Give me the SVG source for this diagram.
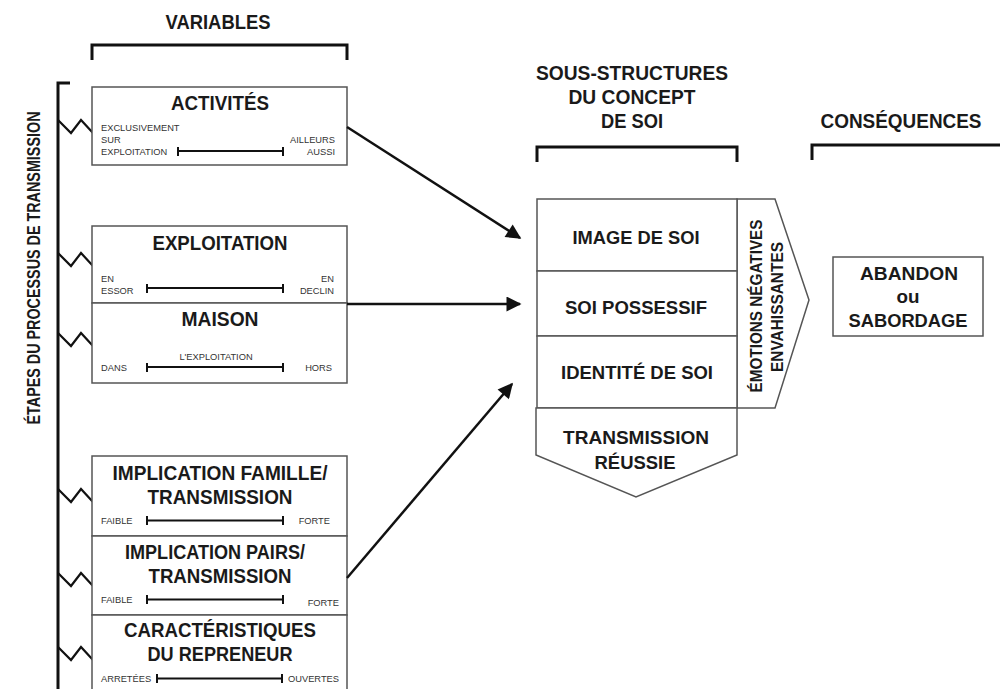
<svg xmlns="http://www.w3.org/2000/svg" width="1000" height="689" viewBox="0 0 1000 689">
<style>
.hdr{font-family:"Liberation Sans",Arial,sans-serif;font-weight:bold;font-size:20px;fill:#1a1a1a;text-anchor:middle}
.ttl{font-family:"Liberation Sans",Arial,sans-serif;font-weight:bold;font-size:20px;fill:#1a1a1a;text-anchor:middle}
.rt{font-family:"Liberation Sans",Arial,sans-serif;font-weight:bold;font-size:19px;fill:#1a1a1a;text-anchor:middle}
.sm{font-family:"Liberation Sans",Arial,sans-serif;font-size:9.3px;fill:#333}
.smr{font-family:"Liberation Sans",Arial,sans-serif;font-size:9.3px;fill:#333;text-anchor:end}
.smc{font-family:"Liberation Sans",Arial,sans-serif;font-size:9.3px;fill:#333;text-anchor:middle}
.box{fill:#fff;stroke:#555;stroke-width:1.5}
.brk{fill:none;stroke:#111;stroke-width:3}
.scale{fill:none;stroke:#111;stroke-width:2}
.zz{fill:none;stroke:#111;stroke-width:2.2;stroke-linejoin:miter}
.con{fill:none;stroke:#111;stroke-width:2.5}
</style>
<defs>
<path id="zig" d="M0,0 L13,13 L23,0 L35,13"/>
<marker id="ah" viewBox="0 0 10 10" refX="9" refY="5" markerWidth="6.5" markerHeight="6" markerUnits="strokeWidth" orient="auto">
<path d="M0,0 L10,5 L0,10 Z" fill="#111"/>
</marker>
</defs>

<!-- Headers -->
<g id="header-variables">
<text class="hdr" x="218" y="29" textLength="105" lengthAdjust="spacingAndGlyphs">VARIABLES</text>
<path class="brk" d="M92,60 V45 H347 V60"/>
</g>
<g id="header-sous-structures">
<text class="hdr" x="632" y="80" textLength="192" lengthAdjust="spacingAndGlyphs">SOUS-STRUCTURES</text>
<text class="hdr" x="632" y="104" textLength="127" lengthAdjust="spacingAndGlyphs">DU CONCEPT</text>
<text class="hdr" x="632" y="128" textLength="62" lengthAdjust="spacingAndGlyphs">DE SOI</text>
<path class="brk" d="M537,162 V147 H737 V162"/>
</g>
<g id="header-consequences">
<text class="hdr" x="901" y="128" textLength="161" lengthAdjust="spacingAndGlyphs">CONSÉQUENCES</text>
<path class="brk" d="M812,160 V145 H1002"/>
</g>

<!-- Left axis -->
<g id="axis-etapes">
<text class="hdr" style="font-size:17.5px" transform="translate(40,268) rotate(-90)" textLength="313" lengthAdjust="spacingAndGlyphs">ÉTAPES DU PROCESSUS DE TRANSMISSION</text>
<path class="brk" d="M70,83 H58 V690"/>
<use href="#zig" class="zz" x="58" y="120"/>
<use href="#zig" class="zz" x="58" y="253"/>
<use href="#zig" class="zz" x="58" y="333"/>
<use href="#zig" class="zz" x="58" y="489"/>
<use href="#zig" class="zz" x="58" y="573"/>
<use href="#zig" class="zz" x="58" y="647"/>
</g>

<!-- Variable boxes -->
<g id="node-activites">
<rect class="box" x="92" y="87" width="255" height="78"/>
<text class="ttl" x="220" y="110" textLength="98" lengthAdjust="spacingAndGlyphs">ACTIVITÉS</text>
<text class="sm" x="101" y="131">EXCLUSIVEMENT</text>
<text class="sm" x="101" y="143">SUR</text>
<text class="sm" x="101" y="155">EXPLOITATION</text>
<text class="smr" x="335" y="143">AILLEURS</text>
<text class="smr" x="335" y="155">AUSSI</text>
<path class="scale" d="M178,147 V156 M178,151 H283 M283,147 V156"/>
</g>

<g id="node-exploitation">
<rect class="box" x="92" y="226" width="255" height="77"/>
<text class="ttl" x="220" y="250" textLength="135" lengthAdjust="spacingAndGlyphs">EXPLOITATION</text>
<text class="sm" x="101" y="282">EN</text>
<text class="sm" x="101" y="294">ESSOR</text>
<text class="smr" x="334" y="282">EN</text>
<text class="smr" x="334" y="294">DECLIN</text>
<path class="scale" d="M147,284 V293 M147,288 H283 M283,284 V293"/>
</g>

<g id="node-maison">
<rect class="box" x="92" y="303" width="255" height="80"/>
<text class="ttl" x="220" y="326" textLength="77" lengthAdjust="spacingAndGlyphs">MAISON</text>
<text class="smc" x="216" y="360">L'EXPLOITATION</text>
<text class="sm" x="101" y="371">DANS</text>
<text class="smr" x="332" y="371">HORS</text>
<path class="scale" d="M147,363 V372 M147,367 H283 M283,363 V372"/>
</g>

<g id="node-implication-famille">
<rect class="box" x="92" y="456" width="255" height="80"/>
<text class="ttl" x="220" y="480" textLength="215" lengthAdjust="spacingAndGlyphs">IMPLICATION FAMILLE/</text>
<text class="ttl" x="220" y="504" textLength="145" lengthAdjust="spacingAndGlyphs">TRANSMISSION</text>
<text class="sm" x="101" y="524">FAIBLE</text>
<text class="smr" x="330" y="524">FORTE</text>
<path class="scale" d="M147,516 V525 M147,520.5 H283 M283,516 V525"/>
</g>

<g id="node-implication-pairs">
<rect class="box" x="92" y="536" width="255" height="79"/>
<text class="ttl" x="215" y="559" textLength="180" lengthAdjust="spacingAndGlyphs">IMPLICATION PAIRS/</text>
<text class="ttl" x="220" y="583" textLength="143" lengthAdjust="spacingAndGlyphs">TRANSMISSION</text>
<text class="sm" x="101" y="603">FAIBLE</text>
<text class="smr" x="339" y="606">FORTE</text>
<path class="scale" d="M147,595 V604 M147,599.5 H283 M283,595 V604"/>
</g>

<g id="node-caracteristiques">
<rect class="box" x="92" y="615" width="255" height="80"/>
<text class="ttl" x="220" y="637" textLength="192" lengthAdjust="spacingAndGlyphs">CARACTÉRISTIQUES</text>
<text class="ttl" x="220" y="661" textLength="145" lengthAdjust="spacingAndGlyphs">DU REPRENEUR</text>
<text class="sm" x="101" y="682">ARRETÉES</text>
<text class="smr" x="339" y="682">OUVERTES</text>
<path class="scale" d="M157,674 V683 M157,678.5 H282 M282,674 V683"/>
</g>

<!-- Self-concept sub-structures -->
<g id="node-emotions">
<path class="box" d="M737,199 H775 L809,300 L775,408 H737 Z"/>
<text class="rt" style="font-size:16.5px" transform="translate(762,306) rotate(-90)" textLength="173" lengthAdjust="spacingAndGlyphs">ÉMOTIONS NÉGATIVES</text>
<text class="rt" style="font-size:16.5px" transform="translate(783,307) rotate(-90)" textLength="130" lengthAdjust="spacingAndGlyphs">ENVAHISSANTES</text>
</g>
<g id="node-image-de-soi">
<rect class="box" x="537" y="199" width="200" height="72"/>
<text class="rt" x="636" y="244" textLength="127" lengthAdjust="spacingAndGlyphs">IMAGE DE SOI</text>
</g>
<g id="node-soi-possessif">
<rect class="box" x="537" y="271" width="200" height="65"/>
<text class="rt" x="636" y="314" textLength="142" lengthAdjust="spacingAndGlyphs">SOI POSSESSIF</text>
</g>
<g id="node-identite-de-soi">
<rect class="box" x="537" y="336" width="200" height="72"/>
<text class="rt" x="637" y="379" textLength="152" lengthAdjust="spacingAndGlyphs">IDENTITÉ DE SOI</text>
</g>
<g id="node-transmission-reussie">
<path class="box" d="M536,408 H737 V455 L636,497 L536,455 Z"/>
<text class="rt" x="636" y="444" textLength="146" lengthAdjust="spacingAndGlyphs">TRANSMISSION</text>
<text class="rt" x="635" y="469" textLength="81" lengthAdjust="spacingAndGlyphs">RÉUSSIE</text>
</g>

<g id="node-abandon">
<rect class="box" x="833" y="257" width="150" height="79"/>
<text class="rt" x="909" y="280" textLength="98" lengthAdjust="spacingAndGlyphs">ABANDON</text>
<text class="rt" x="908" y="303" textLength="23" lengthAdjust="spacingAndGlyphs">ou</text>
<text class="rt" x="908" y="327" textLength="119" lengthAdjust="spacingAndGlyphs">SABORDAGE</text>
</g>

<!-- Connectors -->
<g id="connectors">
<path class="con" d="M347,127 L520,238" marker-end="url(#ah)"/>
<path class="con" d="M347,304 L520,304" marker-end="url(#ah)"/>
<path class="con" d="M347,578 L512,384" marker-end="url(#ah)"/>
</g>
</svg>
